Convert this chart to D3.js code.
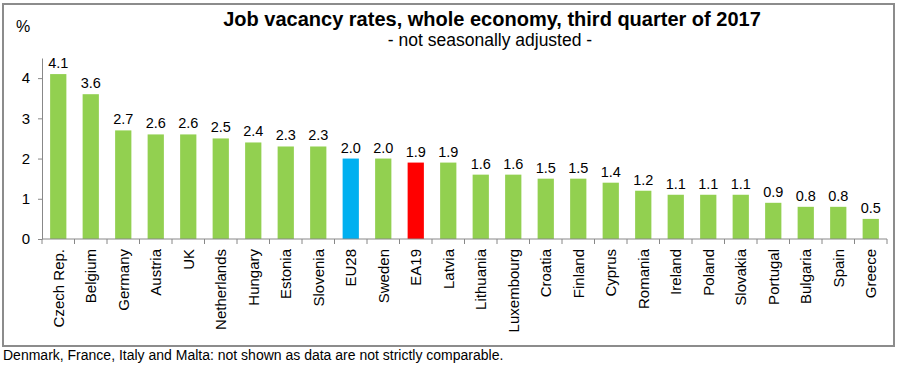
<!DOCTYPE html>
<html><head><meta charset="utf-8">
<script src="https://cdn.jsdelivr.net/npm/d3@7"></script>
<style>body{margin:0;background:#fff}svg{display:block;font-family:"Liberation Sans",Arial,sans-serif}</style>
</head><body><svg id="c" width="900" height="367"></svg>
<script>
const categories = ["Czech Rep.","Belgium","Germany","Austria","UK","Netherlands","Hungary","Estonia","Slovenia","EU28","Sweden","EA19","Latvia","Lithuania","Luxembourg","Croatia","Finland","Cyprus","Romania","Ireland","Poland","Slovakia","Portugal","Bulgaria","Spain","Greece"];
const values = [4.1,3.6,2.7,2.6,2.6,2.5,2.4,2.3,2.3,2.0,2.0,1.9,1.9,1.6,1.6,1.5,1.5,1.4,1.2,1.1,1.1,1.1,0.9,0.8,0.8,0.5];
const yTicks = [0,1,2,3,4];
const highlight = {"EU28":"#00B0F0","EA19":"#FF0000"};
const baseColor = "#92D050";

const svg = d3.select("#c");
svg.append("rect").attr("x",3).attr("y",4).attr("width",891).attr("height",342)
  .attr("fill","none").attr("stroke","#8c8c8c").attr("stroke-width",2);

const x = d3.scaleBand().domain(categories).range([42,887]).paddingInner(0.5).paddingOuter(0.25);
const y = d3.scaleLinear().domain([0,4.5]).range([239,58]);

svg.append("g").selectAll("rect").data(categories).join("rect")
  .attr("x",d=>x(d)).attr("width",x.bandwidth())
  .attr("y",(d,i)=>y(values[i])).attr("height",(d,i)=>y(0)-y(values[i]))
  .attr("fill",d=>highlight[d]||baseColor);

svg.append("g").selectAll("text").data(categories).join("text")
  .attr("x",d=>x(d)+x.bandwidth()/2).attr("y",(d,i)=>y(values[i])-6)
  .attr("text-anchor","middle").attr("font-size",14.5).attr("fill","#000")
  .text((d,i)=>values[i].toFixed(1));

const ya = svg.append("g").attr("transform","translate(42,0)")
  .call(d3.axisLeft(y).tickValues(yTicks).tickSize(4).tickSizeOuter(0).tickFormat(d3.format("d")));
ya.select(".domain").attr("stroke","#888");
ya.selectAll(".tick line").attr("stroke","#888");
ya.selectAll("text").attr("font-size",15).attr("font-family","Liberation Sans, Arial, sans-serif").attr("fill","#000").attr("x",-12);

const xg = svg.append("g");
xg.append("line").attr("x1",42).attr("x2",887).attr("y1",239).attr("y2",239).attr("stroke","#888");
const step = x.step();
const bounds = d3.range(categories.length+1).map(i=>42+i*step);
xg.selectAll("line.t").data(bounds).join("line").attr("class","t")
  .attr("x1",d=>d).attr("x2",d=>d).attr("y1",239).attr("y2",244).attr("stroke","#888");
xg.selectAll("text").data(categories).join("text")
  .attr("transform",d=>`translate(${x(d)+x.bandwidth()/2+5.5},249) rotate(-90)`)
  .attr("text-anchor","end").attr("font-size",15).attr("fill","#000").text(d=>d);

svg.append("text").attr("x",492).attr("y",26).attr("text-anchor","middle")
  .attr("font-size",20).attr("font-weight","bold").text("Job vacancy rates, whole economy, third quarter of 2017");
svg.append("text").attr("x",490).attr("y",46).attr("text-anchor","middle")
  .attr("font-size",17.5).text("- not seasonally adjusted -");
svg.append("text").attr("x",16).attr("y",32).attr("font-size",16).text("%");
svg.append("text").attr("x",3).attr("y",360).attr("font-size",14)
  .text("Denmark, France, Italy and Malta: not shown as data are not strictly comparable.");
</script></body></html>
